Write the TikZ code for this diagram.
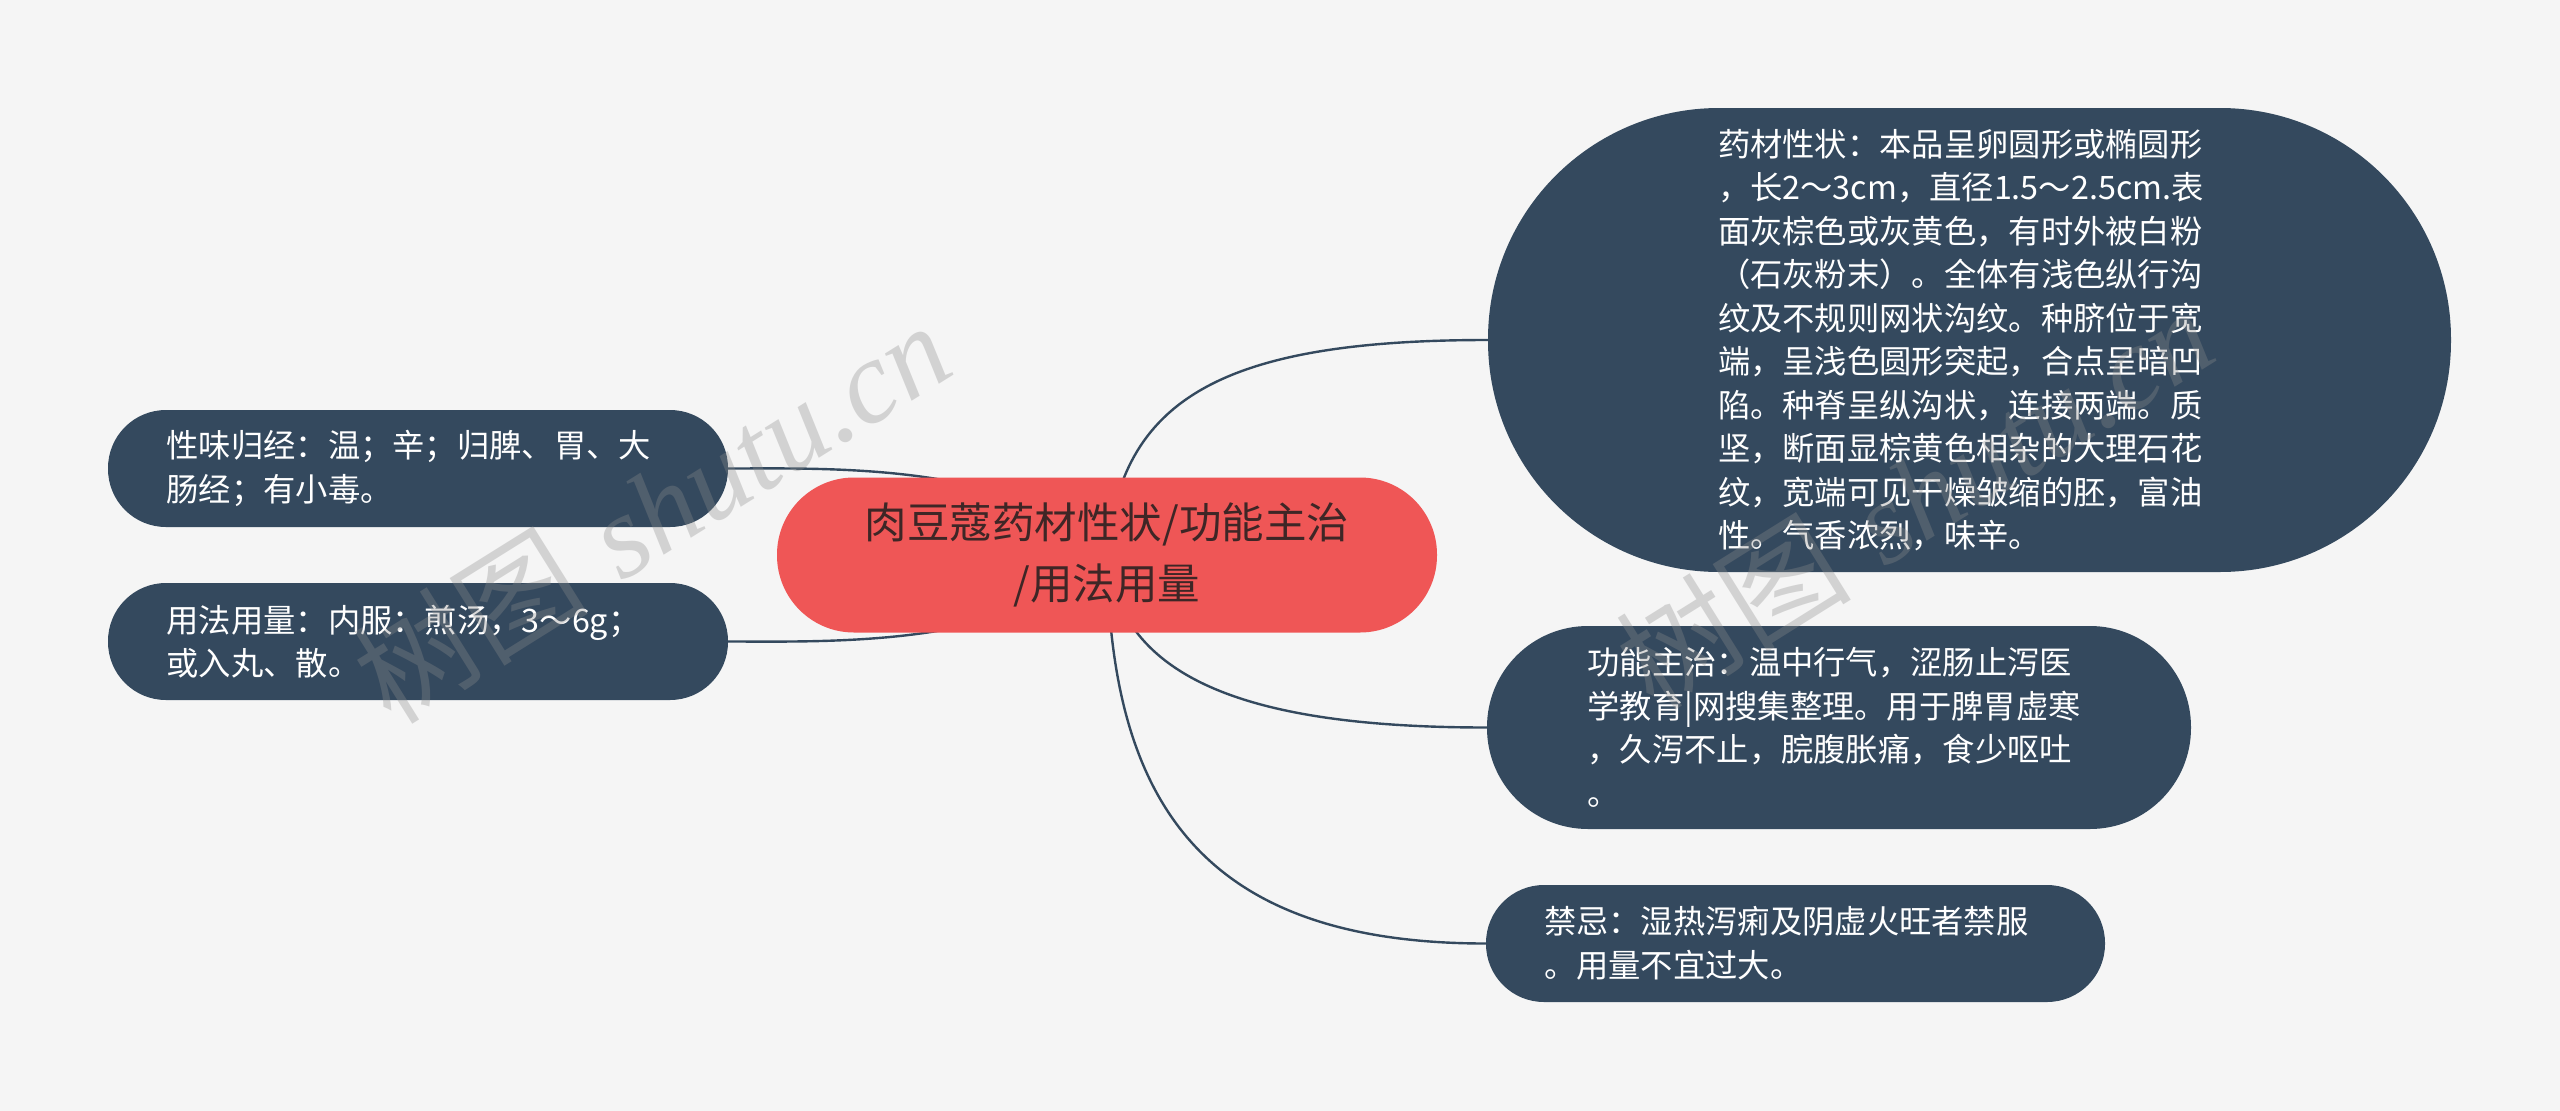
\documentclass[tikz,border=0pt]{standalone}
\usepackage{fontspec}
\newfontfamily\cjk{Noto Sans CJK SC}
\newfontfamily\wmserif{Liberation Serif}
\setlength{\parindent}{0pt}
\definecolor{navy}{RGB}{52,73,94}
\definecolor{mainred}{RGB}{239,86,86}
\definecolor{maintext}{RGB}{62,38,38}
\definecolor{bgcol}{RGB}{245,245,245}
\definecolor{wmcol}{RGB}{140,140,140}
\pgfdeclarelayer{bg}
\pgfsetlayers{bg,main}
\begin{document}
\begin{tikzpicture}[x=1pt,y=-1pt,
  leaf/.style={rectangle, fill=navy, text=white, inner sep=0pt, align=left,
    text width=503pt, font={\cjk\fontsize{32.3}{43.5}\selectfont}},
  rootnode/.style={rectangle, fill=mainred, text=maintext, inner sep=0pt, align=center,
    minimum width=660pt, minimum height=155pt, rounded corners=77pt,
    font={\cjk\fontsize{42.5}{61}\selectfont}},
  link/.style={draw=navy, line width=2.4pt},
  wm/.style={text=wmcol, opacity=0.33, rotate=32, inner sep=0pt,
    font={\fontsize{118}{118}\selectfont}}]

\useasboundingbox (0,0) rectangle (2560,1111);
\begin{pgfonlayer}{bg}
  \fill[bgcol] (0,0) rectangle (2560,1111);
\end{pgfonlayer}

\node[rootnode] (c) at (1107,555) {肉豆蔻药材性状/功能主治\\/用法用量};

\node[leaf, minimum width=963pt, minimum height=464pt, rounded corners=231pt] (b) at (1969.5,340)
 {药材性状：本品呈卵圆形或椭圆形\\，长2～3cm，直径1.5～2.5cm.表\\面灰棕色或灰黄色，有时外被白粉\\（石灰粉末）。全体有浅色纵行沟\\纹及不规则网状沟纹。种脐位于宽\\端，呈浅色圆形突起，合点呈暗凹\\陷。种脊呈纵沟状，连接两端。质\\坚，断面显棕黄色相杂的大理石花\\纹，宽端可见干燥皱缩的胚，富油\\性。气香浓烈，味辛。};

\node[leaf, minimum width=704pt, minimum height=203pt, rounded corners=101pt] (f) at (1839,727.5)
 {功能主治：温中行气，涩肠止泻医\\学教育|网搜集整理。用于脾胃虚寒\\，久泻不止，脘腹胀痛，食少呕吐\\。};

\node[leaf, minimum width=619pt, minimum height=117pt, rounded corners=58pt] (j) at (1795.5,943.5)
 {禁忌：湿热泻痢及阴虚火旺者禁服\\。用量不宜过大。};

\node[leaf, minimum width=620pt, minimum height=117pt, rounded corners=58pt] (l1) at (418,468.5)
 {性味归经：温；辛；归脾、胃、大\\肠经；有小毒。};

\node[leaf, minimum width=620pt, minimum height=117pt, rounded corners=58pt] (l2) at (418,641.5)
 {用法用量：内服：煎汤，3～6g；\\或入丸、散。};

\begin{pgfonlayer}{bg}
  \draw[link] (c.center) .. controls (1120,400) and (1220,340) .. (b.west);
  \draw[link] (c.center) .. controls (1120,680) and (1250,727.5) .. (f.west);
  \draw[link] (c.center) .. controls (1110,800) and (1200,943.5) .. (j.west);
  \draw[link] (c.center) .. controls (1020,462) and (830,468.5) .. (l1.east);
  \draw[link] (c.center) .. controls (1020,648) and (830,641.5) .. (l2.east);
\end{pgfonlayer}

\node[wm] (wm1) at (651,511) {{\cjk 树图} {\wmserif\itshape shutu.cn}};
\node[wm] (wm2) at (1914,497) {{\cjk 树图} {\wmserif\itshape shutu.cn}};
\end{tikzpicture}
\end{document}
